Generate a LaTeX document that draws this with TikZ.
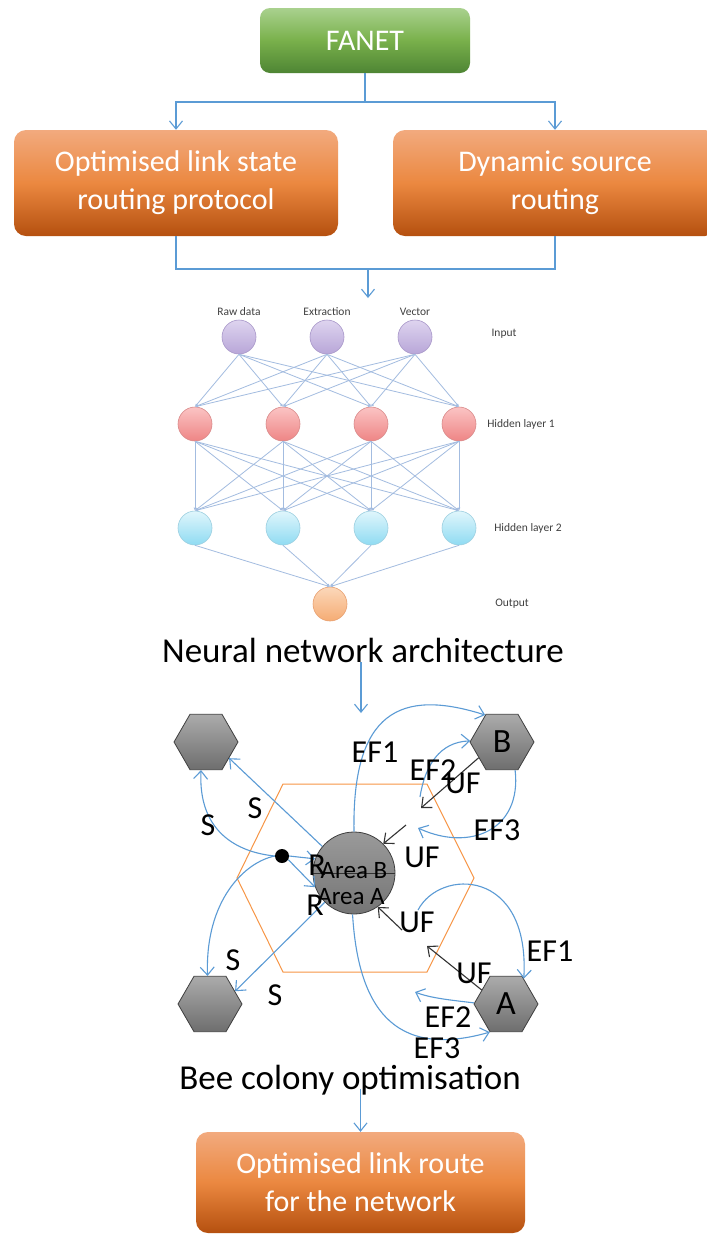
\documentclass[tikz,border=0pt]{standalone}
\usepackage{fontspec}
\setmainfont{Carlito}
\usetikzlibrary{arrows.meta,shapes.geometric}
\definecolor{lnblue}{HTML}{5B9BD5}
\definecolor{nnline}{HTML}{A3BCE0}
\definecolor{ortop}{HTML}{F2AA7E}
\definecolor{ormid}{HTML}{EB8840}
\definecolor{orbot}{HTML}{B5500F}
\definecolor{grtop}{HTML}{A9D18E}
\definecolor{grmid}{HTML}{79B04B}
\definecolor{grbot}{HTML}{4E8534}
\definecolor{hexline}{HTML}{F79646}
\definecolor{gytop}{HTML}{ABABAB}
\definecolor{gybot}{HTML}{6E6E6E}
\definecolor{gydraw}{HTML}{3F3F3F}
\definecolor{intop}{HTML}{DED4EF}
\definecolor{inbot}{HTML}{B8A6D8}
\definecolor{indraw}{HTML}{A897C9}
\definecolor{hatop}{HTML}{FBC4C4}
\definecolor{habot}{HTML}{EE8585}
\definecolor{hadraw}{HTML}{D98A8A}
\definecolor{hbtop}{HTML}{E0F6FC}
\definecolor{hbbot}{HTML}{8FDBF2}
\definecolor{hbdraw}{HTML}{9CCFE0}
\definecolor{outop}{HTML}{FCD8BA}
\definecolor{oubot}{HTML}{F5AC74}
\definecolor{oudraw}{HTML}{E8A070}
\definecolor{nntext}{HTML}{404040}
\tikzset{
  orbox/.style={rounded corners=12pt, top color=ortop, bottom color=orbot, middle color=ormid,
    text=white, align=center, font=\fontsize{30}{38}\selectfont, inner sep=0pt},
  grbox/.style={rounded corners=10pt, top color=grtop, bottom color=grbot, middle color=grmid,
    text=white, align=center, font=\fontsize{30}{36}\selectfont, inner sep=0pt},
  flow/.style={draw=lnblue, line width=1.1pt, -{Straight Barb[length=8pt,width=13pt]}},
  flowline/.style={draw=lnblue, line width=1.1pt},
  nnode/.style={circle, minimum size=34pt, inner sep=0pt, line width=0.6pt},
  inpn/.style={nnode, top color=intop, bottom color=inbot, draw=indraw},
  hidan/.style={nnode, top color=hatop, bottom color=habot, draw=hadraw},
  hidbn/.style={nnode, top color=hbtop, bottom color=hbbot, draw=hbdraw},
  outn/.style={nnode, top color=outop, bottom color=oubot, draw=oudraw},
  nnedge/.style={draw=nnline, line width=0.8pt, -{Latex[length=3pt,width=3pt]}},
  nnlab/.style={text=nntext, font=\fontsize{11.5}{12}\selectfont, inner sep=0pt},
  ttl/.style={font=\fontsize{35}{40}\selectfont, inner sep=0pt, anchor=base},
  hexn/.style={regular polygon, regular polygon sides=6, minimum size=64pt, inner sep=0pt,
    draw=gydraw, line width=0.8pt, top color=gytop, bottom color=gybot, font=\fontsize{34}{34}\selectfont},
  lab/.style={font=\fontsize{32}{32}\selectfont, inner sep=0pt},
  arealab/.style={font=\fontsize{25}{25}\selectfont, inner sep=0pt},
  bee/.style={draw=lnblue, line width=1.1pt, -{Straight Barb[length=8pt,width=14pt]}},
  blk/.style={draw=black!80, line width=1.1pt, -{Straight Barb[length=8pt,width=14pt]}},
}
\begin{document}
\begin{tikzpicture}[x=1pt,y=-1pt]
\useasboundingbox (0,0) rectangle (707,1235);
\fill[white] (0,0) rectangle (707,1235);
\begin{scope}
\clip (0,0) rectangle (707,1235);
% ---------- flowchart top ----------
\node[grbox, minimum width=210pt, minimum height=65pt] (fanet) at (365,40.5) {FANET};
\node[orbox, minimum width=324pt, minimum height=106pt] (olsr) at (176,183) {Optimised link state\\routing protocol};
\node[orbox, minimum width=324pt, minimum height=106pt] (dsr) at (555,183) {Dynamic source\\routing};
\coordinate (j1) at (365,102);
\draw[flow] (fanet.south) -- (j1) -| (olsr.north);
\draw[flow] (j1) -| (dsr.north);
\coordinate (j2) at (368,269);
\draw[flowline] (olsr.south) |- (dsr.south |- j2) -- (dsr.south);
\coordinate (nntop) at (368,298);
\draw[flow] (j2) -- (nntop);
% ---------- neural network ----------
\foreach \x [count=\i] in {239,327,415} \node[inpn] (i\i) at (\x,337) {};
\foreach \x [count=\i] in {195,283,371,459} {
  \node[hidan] (h\i) at (\x,424) {};
  \node[hidbn] (g\i) at (\x,528) {};
}
\node[outn] (o) at (330,604) {};
\foreach \i in {1,2,3} \foreach \j in {1,...,4} \draw[nnedge] (i\i.south) -- (h\j.north);
\foreach \i in {1,...,4} \foreach \j in {1,...,4} \draw[nnedge] (h\i.south) -- (g\j.north);
\foreach \i in {1,...,4} \draw[nnedge] (g\i.south) -- (o.north);
\node[nnlab] (l1) at (239,312) {Raw data};
\node[nnlab] (l2) at (327,312) {Extraction};
\node[nnlab] (l3) at (415,312) {Vector};
\node[nnlab] (l4) at (504,334) {Input};
\node[nnlab] (l5) at (521,424) {Hidden layer 1};
\node[nnlab] (l6) at (528,528) {Hidden layer 2};
\node[nnlab] (l7) at (512,604) {Output};
\node[ttl] (nnt) at (363,662) {Neural network architecture};
\coordinate (a1) at (361,713);
\draw[flow] (nnt.south -| a1) -- (a1);
% ---------- bee colony ----------
\draw[hexline, line width=1pt] (237,878) -- (283,784) -- (427,784) -- (474,878) -- (427,972) -- (283,972) -- cycle;
\node[hexn] (tl) at (206,742) {};
\node[hexn] (bl) at (210,1004) {};
\node[hexn] (hb) at (502,742) {B};
\node[hexn] (ha) at (506,1004) {A};
\node[circle, minimum size=82pt, inner sep=0pt, draw=gydraw, line width=0.8pt, top color=gytop!90!black, bottom color=gybot!95!white] (circ) at (354,873) {};
\draw[black!80, line width=0.8pt] (circ.west) -- (circ.east);
\node[circle, fill=black, minimum size=14pt, inner sep=0pt] (dot) at (282,856) {};
% left side S / R
\draw[bee] (circ.140) -- (tl.-35);
\draw[bee] (dot.west) .. controls (235,852) and (198,830) .. (tl.-100);
\draw[bee] (dot.west) .. controls (245,862) and (205,900) .. (bl.95);
\draw[bee] (circ.-135) -- (bl.27);
\draw[bee] (dot.east) -- (circ.160);
\draw[bee] (dot.-30) -- (circ.200);
\node[lab] (s1) at (255,808) {S};
\node[lab] (s2) at (208,825) {S};
\node[lab] (s3) at (233,960) {S};
\node[lab] (s4) at (275,995) {S};
\node[lab] (r1) at (317,865) {R};
\node[lab] (r2) at (315,905) {R};
\node[arealab] (ab) at (354,871) {Area B};
\node[arealab] (aa) at (351,897) {Area A};
% right side, upper
\draw[bee] (circ.north) .. controls (352,712) and (400,688) .. (hb.122);
\coordinate (ef2s) at (420,797);
\draw[bee] (ef2s) .. controls (425,765) and (440,742) .. (hb.178);
\coordinate (uf1) at (421,808);
\draw[blk] (hb.-146) -- (uf1);
\coordinate (ef3e) at (418,828);
\draw[bee] (hb.-65) .. controls (522,830) and (470,852) .. (ef3e);
\coordinate (uf2) at (406,825);
\draw[blk] (uf2) -- (circ.45);
\node[lab] (ef1a) at (375,752) {EF1};
\node[lab] (ef2a) at (433,770) {EF2};
\node[lab] (ufa) at (463,783) {UF};
\node[lab] (ef3a) at (497,830) {EF3};
\node[lab] (ufb) at (422,857) {UF};
% right side, lower
\coordinate (uf3) at (402,930);
\draw[blk] (uf3) -- (circ.-55);
\coordinate (uf4) at (427,946);
\draw[blk] (ha.150) -- (uf4);
\coordinate (ef1s) at (418,910);
\draw[bee] (ef1s) .. controls (440,868) and (530,868) .. (ha.55);
\coordinate (ef2e) at (415,992);
\draw[bee] (ha.178) .. controls (450,1000) and (430,998) .. (ef2e);
\draw[bee] (circ.-92) .. controls (358,1005) and (392,1060) .. (ha.-120);
\node[lab] (ufc) at (417,922) {UF};
\node[lab] (ufd) at (474,973) {UF};
\node[lab] (ef1b) at (550,951) {EF1};
\node[lab] (ef2b) at (448,1017) {EF2};
\node[lab] (ef3b) at (437,1048) {EF3};
\node[ttl] (bct) at (350,1089) {Bee colony optimisation};
% ---------- bottom ----------
\node[orbox, minimum width=329pt, minimum height=101pt] (out) at (360.5,1182.5) {Optimised link route\\for the network};
\draw[flow] (out.north |- bct.base) -- (out.north);
\end{scope}
\end{tikzpicture}
\end{document}
